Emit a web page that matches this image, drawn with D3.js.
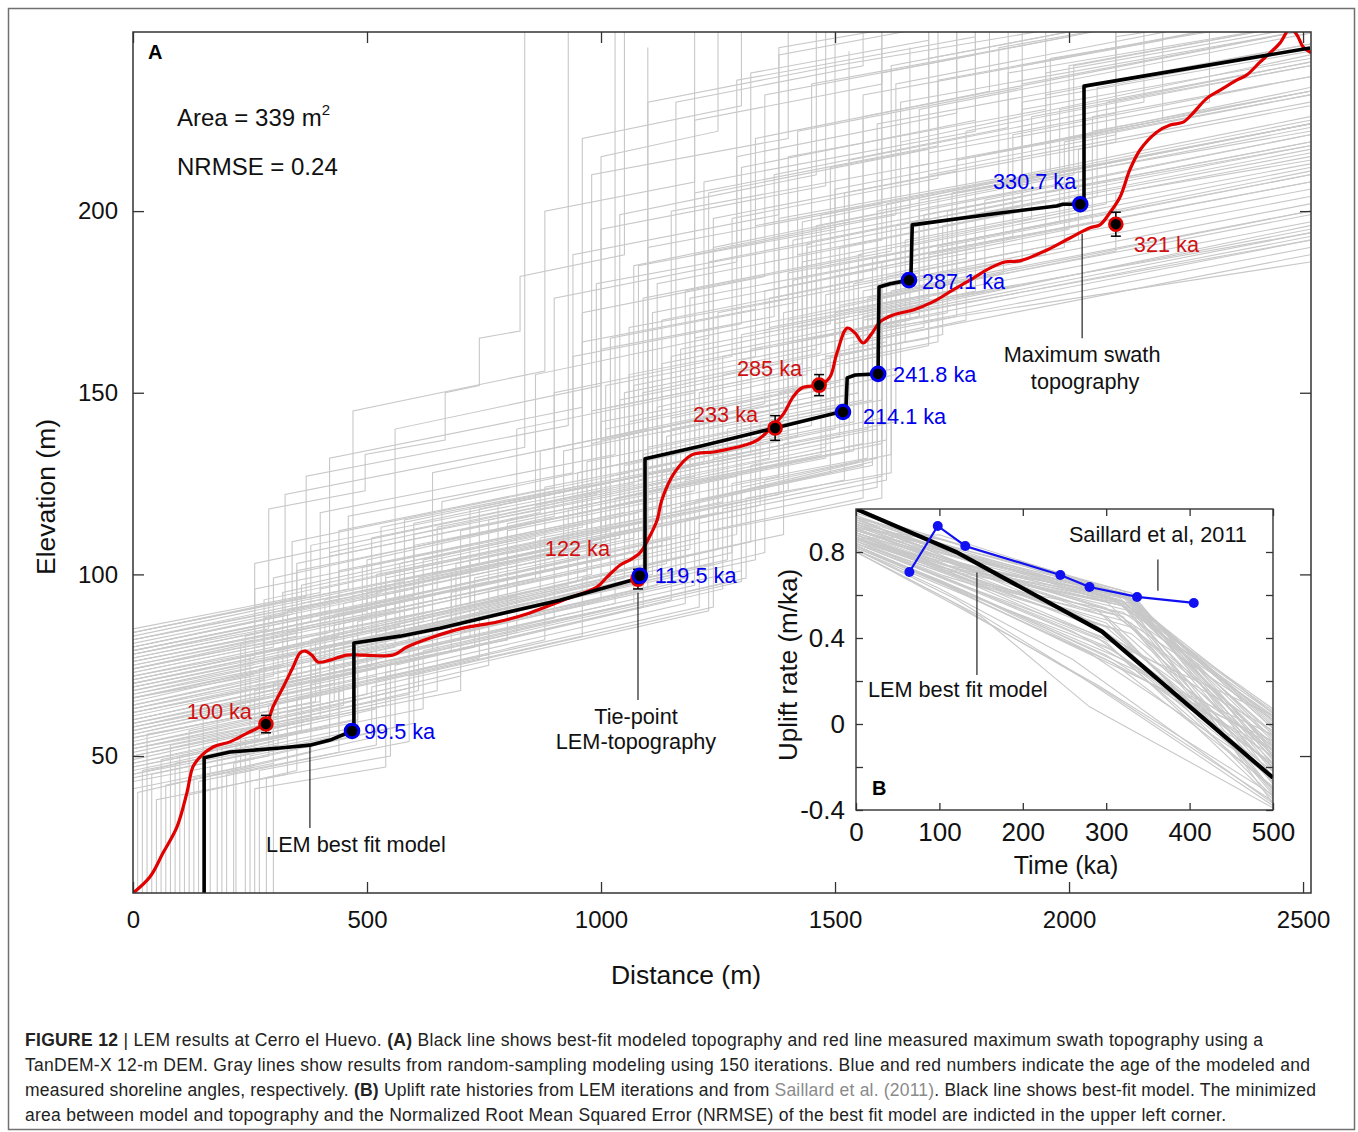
<!DOCTYPE html>
<html><head><meta charset="utf-8">
<script src="https://cdn.jsdelivr.net/npm/d3@7"></script>
<style>
body{margin:0;background:#fff}
svg{display:block}
text{font-family:"Liberation Sans",Arial,Helvetica,sans-serif}
</style>
</head><body>
<svg id="c" width="1358" height="1132"></svg>
<script>
// ---------------- DATA ----------------
const xTicks = [0, 500, 1000, 1500, 2000, 2500];
const yTicks = [50, 100, 150, 200];
const insetXTicks = [0, 100, 200, 300, 400, 500];
const insetYTicks = [-0.4, -0.2, 0, 0.2, 0.4, 0.6, 0.8];
const insetYTickLabels = ["-0.4", "", "0", "", "0.4", "", "0.8"];

// Gray LEM iterations: flat [distance, elevation] vertex lists (vertical jumps = repeated distance)
const grayProfiles = [
 [10,12, 10,40, 380,51, 380,70, 1150,93, 1150,118, 1560,130, 1560,168, 2515,192],
 [40,12, 40,45, 420,55, 420,74, 1200,97, 1200,120, 1590,132, 1590,172, 2515,195],
 [70,12, 70,42, 300,48, 300,60, 700,72, 700,84, 1300,101, 1300,128, 1600,136, 1600,176, 2100,189, 2100,205, 2515,214],
 [100,12, 100,50, 470,60, 470,78, 1120,97, 1120,125, 1480,135, 1480,160, 1700,165, 1700,190, 2515,210],
 [130,12, 130,44, 510,55, 510,69, 1230,90, 1230,112, 1560,121, 1560,170, 2515,194],
 [165,12, 165,47, 560,58, 560,75, 1260,96, 1260,118, 1600,127, 1600,180, 1950,188, 1950,205, 2515,218],
 [190,12, 190,52, 420,58, 420,80, 1050,99, 1050,130, 1450,141, 1450,165, 1680,171, 1680,200, 2515,221],
 [215,12, 215,48, 600,59, 600,78, 1280,98, 1280,122, 1580,130, 1580,174, 2515,197],
 [240,12, 240,55, 380,59, 380,82, 980,100, 980,136, 1350,147, 1350,178, 1800,190, 1800,215, 2515,233],
 [260,12, 260,41, 540,47, 540,73, 1180,92, 1180,115, 1610,126, 1610,168, 2515,186],
 [285,12, 285,44, 550,50, 550,76, 1300,98, 1300,124, 1550,131, 1550,172, 2515,194],
 [300,12, 300,58, 650,68, 650,88, 1140,103, 1140,138, 1500,148, 1500,182, 2000,195, 2000,220, 2515,233],
 [50,12, 50,38, 330,45, 330,62, 760,75, 760,88, 1350,106, 1350,126, 1620,133, 1620,178, 2515,200],
 [150,12, 150,60, 450,68, 450,90, 1000,106, 1000,142, 1420,152, 1420,188, 1900,200, 1900,228, 2515,242],
 [20,12, 20,46, 480,58, 480,80, 1080,98, 1080,126, 1520,137, 1520,166, 1640,169, 1640,195, 2515,216],
 [110,12, 110,39, 350,46, 350,66, 880,82, 880,96, 1320,109, 1320,130, 1610,137, 1610,182, 2515,204],
 [0,45, 300,54, 300,70, 900,88, 900,110, 1380,122, 1380,150, 1640,157, 1640,190, 2515,212],
 [0,48, 520,63, 520,84, 1100,101, 1100,135, 1500,145, 1500,172, 1750,178, 1750,205, 2515,224],
 [0,50, 250,57, 250,78, 950,98, 950,128, 1400,139, 1400,170, 1700,177, 1700,210, 2515,230],
 [0,52, 600,69, 600,88, 1150,104, 1150,140, 1550,150, 1550,185, 2050,197, 2050,222, 2515,233],
 [0,54, 350,64, 350,86, 1020,105, 1020,146, 1450,157, 1450,195, 1950,207, 1950,238, 2515,251],
 [0,56, 450,69, 450,92, 1090,110, 1090,150, 1380,158, 1380,198, 1850,209, 1850,245, 2515,260],
 [0,58, 280,66, 280,84, 880,101, 880,124, 1320,135, 1320,162, 1680,171, 1680,203, 2515,224],
 [0,60, 680,79, 680,95, 1210,110, 1210,150, 1590,160, 1590,200, 2515,223],
 [0,62, 400,73, 400,96, 940,111, 940,160, 1300,169, 1300,212, 1800,225, 1800,260],
 [0,64, 560,80, 560,98, 1060,112, 1060,155, 1500,166, 1500,206, 2100,221, 2100,250, 2515,260],
 [0,47, 380,57, 380,75, 1000,93, 1000,120, 1480,132, 1480,158, 1720,164, 1720,190, 2515,210],
 [0,53, 500,67, 500,82, 1240,103, 1240,132, 1570,140, 1570,176, 2515,200],
 [0,57, 330,66, 330,90, 980,108, 980,145, 1410,156, 1410,192, 1900,204, 1900,235, 2515,250],
 [0,61, 640,79, 640,100, 1130,114, 1130,170, 1560,181, 1560,226, 2515,250],
 [0,49, 420,61, 420,79, 1160,100, 1160,125, 1530,134, 1530,163, 1780,170, 1780,192, 2515,211],
 [0,55, 230,61, 230,81, 860,99, 860,119, 1360,132, 1360,168, 1760,178, 1760,214, 2515,234],
 [0,63, 720,83, 720,104, 1180,117, 1180,178, 1620,189, 1620,240, 2515,262],
 [0,51, 590,67, 590,85, 1270,104, 1270,140, 1580,148, 1580,187, 2050,199, 2050,226, 2515,237],
 [0,59, 470,72, 470,94, 1040,110, 1040,138, 1460,149, 1460,184, 1980,197, 1980,228, 2515,241],
 [0,44, 260,51, 260,68, 820,84, 820,105, 1340,119, 1340,142, 1600,148, 1600,184, 2515,206],
 [0,66, 540,81, 540,99, 1020,112, 1020,165, 1420,175, 1420,222, 1900,234, 1900,262],
 [0,68, 360,78, 360,97, 960,114, 960,172, 1350,182, 1350,232, 1800,243, 1800,270],
 [0,70, 620,87, 620,104, 1080,117, 1080,185, 1500,195, 1500,240, 2515,262],
 [0,72, 300,80, 300,99, 900,116, 900,150, 1280,160, 1280,198, 1720,209, 1720,236, 2515,255],
 [0,74, 500,88, 500,104, 1100,121, 1100,190, 1600,202, 1600,250],
 [0,76, 420,87, 420,106, 990,122, 990,180, 1450,191, 1450,235, 2000,248, 2000,265],
 [0,78, 700,97, 700,112, 1150,124, 1150,200, 1700,213, 1700,260],
 [0,80, 340,89, 340,109, 1060,128, 1060,168, 1400,176, 1400,215, 1950,228, 1950,255],
 [0,82, 580,98, 580,115, 1220,131, 1220,208, 1800,222, 1800,260],
 [0,84, 460,96, 460,116, 940,128, 940,188, 1380,199, 1380,245, 2515,270],
 [0,67, 780,89, 780,104, 1260,117, 1260,160, 1660,170, 1660,212, 2200,225, 2200,250],
 [0,71, 440,83, 440,101, 1130,119, 1130,158, 1520,168, 1520,205, 2100,219, 2100,248, 2515,256],
 [0,75, 260,82, 260,103, 1000,123, 1000,195, 1480,207, 1480,255],
 [0,79, 650,96, 650,113, 1190,127, 1190,176, 1640,187, 1640,230, 2515,250],
 [0,69, 520,83, 520,100, 1300,120, 1300,166, 1700,176, 1700,216, 2300,230, 2300,255],
 [0,73, 870,96, 870,110, 1400,123, 1400,183, 1900,195, 1900,240, 2515,255],
 [0,77, 380,87, 380,108, 1090,126, 1090,176, 1560,188, 1560,232, 2200,247, 2200,262],
 [0,83, 740,103, 740,118, 1240,131, 1240,198, 1760,211, 1760,255],
 [0,80, 325,89, 325,122, 837,135, 837,260],
 [0,84, 370,94, 370,127, 930,141, 930,260],
 [0,78, 290,85, 290,118, 496,123, 496,133, 667,137, 667,150, 740,152, 740,165, 827,167, 827,182, 1050,188, 1050,260],
 [0,76, 560,90, 560,140, 1000,152, 1000,215, 1250,222, 1250,260],
 [0,70, 640,86, 640,128, 1100,140, 1100,230, 1500,240, 1500,260],
 [0,82, 470,94, 470,145, 880,156, 880,200, 1200,208, 1200,260],
 [0,74, 720,92, 720,118, 1320,133, 1320,238, 1700,247, 1700,260],
 [0,66, 600,80, 600,108, 1200,123, 1200,225, 1600,235, 1600,260],
 [0,79, 420,90, 420,132, 960,146, 960,220, 1300,229, 1300,260],
 [0,62, 800,82, 800,112, 1380,127, 1380,243, 1800,253],
 [0,65, 410,77, 410,93, 1010,109, 1010,140, 1430,151, 1430,186, 1920,198, 1920,226, 2515,240],
 [0,58, 610,75, 610,92, 1190,107, 1190,133, 1540,142, 1540,180, 2020,192, 2020,217, 2515,229],
 [0,46, 330,55, 330,72, 1070,92, 1070,117, 1490,128, 1490,160, 1730,166, 1730,196, 2515,215],
 [0,71, 490,84, 490,102, 1050,117, 1050,150, 1470,161, 1470,199, 2000,212, 2000,240, 2515,252],
 [80,12, 80,53, 400,61, 400,80, 1130,100, 1130,128, 1510,138, 1510,174, 1860,183, 1860,208, 2515,224],
 [0,63, 280,71, 280,88, 920,105, 920,134, 1360,145, 1360,176, 1780,187, 1780,222, 2515,240],
 [0,69, 690,87, 690,103, 1250,117, 1250,172, 1680,183, 1680,228, 2515,249],
 [200,12, 200,45, 520,53, 520,71, 1210,91, 1210,114, 1590,124, 1590,170, 2515,193],
 [0,74, 350,83, 350,101, 1120,121, 1120,180, 1600,192, 1600,238, 2515,261],
 [0,52, 450,64, 450,83, 1020,99, 1020,127, 1420,138, 1420,168, 1800,178, 1800,206, 2515,224],
 [0,81, 530,95, 530,113, 980,125, 980,210, 1400,220, 1400,260],
 [0,57, 760,78, 760,96, 1290,111, 1290,146, 1630,155, 1630,196, 2515,218],
 [0,43, 290,50, 290,64, 740,77, 740,90, 1280,106, 1280,125, 1570,132, 1570,170, 2515,192],
 [0,67, 320,75, 320,95, 860,110, 860,155, 1230,165, 1230,205, 1700,217, 1700,248],
 [0,78, 600,94, 600,111, 1160,125, 1160,230, 1560,240, 1560,260],
 [0,60, 520,74, 520,91, 1060,106, 1060,142, 1440,152, 1440,190, 1950,203, 1950,232, 2515,246],
 [0,85, 400,95, 400,117, 1030,133, 1030,260],
 [0,70, 260,77, 260,96, 1150,119, 1150,160, 1490,169, 1490,212, 2100,227, 2100,255],
 [120,12, 120,57, 430,65, 430,86, 970,101, 970,131, 1390,142, 1390,172, 1760,181, 1760,214, 2515,232],
 [0,50, 700,68, 700,87, 1330,104, 1330,136, 1600,143, 1600,186, 2515,208],
 [0,72, 330,80, 330,84, 610,91, 610,99, 1010,110, 1010,152, 1330,160, 1330,196, 1870,209, 1870,238, 2515,252],
 [60,12, 60,49, 360,57, 360,71, 640,79, 640,86, 1110,100, 1110,123, 1540,134, 1540,164, 1690,168, 1690,199, 2515,219],
 [0,64, 300,72, 300,77, 540,83, 540,100, 1120,115, 1120,146, 1440,155, 1440,191, 1900,203, 1900,230, 2515,244],
 [0,41, 230,47, 230,57, 610,68, 610,81, 1170,98, 1170,119, 1580,131, 1580,167, 2515,190],
 [0,77, 500,90, 500,95, 780,102, 780,119, 1200,130, 1200,205, 1720,218, 1720,260],
 [180,12, 180,63, 520,72, 520,95, 1070,110, 1070,152, 1460,162, 1460,196, 2010,210, 2010,240, 2515,252],
 [0,55, 390,65, 390,82, 820,94, 820,108, 1260,120, 1260,155, 1610,164, 1610,202, 2515,225],
 [0,48, 270,55, 270,74, 700,86, 700,97, 1230,112, 1230,140, 1560,148, 1560,178, 1900,186, 1900,210, 2515,226],
 [0,82, 440,93, 440,112, 900,124, 900,176, 1290,186, 1290,236, 1800,248, 1800,262],
 [250,12, 250,50, 470,56, 470,76, 1030,92, 1030,121, 1470,133, 1470,159, 1650,164, 1650,192, 2515,213],
 [0,60, 730,80, 730,99, 1170,111, 1170,162, 1530,171, 1530,214, 2160,230, 2160,258],
 [0,53, 310,61, 310,79, 930,97, 930,118, 1300,128, 1300,159, 1760,171, 1760,198, 2515,217],
 [0,69, 580,84, 580,107, 1110,121, 1110,172, 1590,184, 1590,224, 2515,246],
 [140,12, 140,43, 440,51, 440,68, 960,83, 960,99, 1390,111, 1390,136, 1630,142, 1630,180, 2515,202],
 [0,75, 350,84, 350,103, 870,117, 870,134, 1240,144, 1240,190, 1660,201, 1660,245],
 [0,62, 510,75, 510,92, 1150,110, 1150,143, 1510,153, 1510,190, 2060,204, 2060,234, 2515,245],
 [0,45, 440,56, 440,72, 1090,91, 1090,114, 1520,126, 1520,158, 1700,163, 1700,188, 2515,208],
 [0,80, 600,96, 600,114, 1040,126, 1040,199, 1460,210, 1460,258],
 [0,58, 240,64, 240,83, 760,98, 760,115, 1200,127, 1200,165, 1640,177, 1640,219, 2515,243],
 [30,12, 30,56, 400,65, 400,88, 1000,104, 1000,137, 1410,148, 1410,181, 1880,193, 1880,221, 2515,237],
 [0,66, 680,84, 680,101, 1230,116, 1230,186, 1700,198, 1700,242, 2515,262],
 [0,50, 540,64, 540,80, 1180,99, 1180,126, 1560,136, 1560,171, 1820,178, 1820,203, 2515,221],
 [0,73, 420,84, 420,105, 1000,120, 1000,162, 1370,171, 1370,210, 1870,223, 1870,250],
 [90,12, 90,48, 310,53, 310,69, 800,82, 800,94, 1250,107, 1250,131, 1590,140, 1590,176, 2515,199],
 [0,84, 660,101, 660,120, 1100,132, 1100,245],
 [0,56, 480,69, 480,87, 1090,105, 1090,133, 1480,144, 1480,177, 1990,190, 1990,219, 2515,232],
 [0,71, 570,86, 570,103, 960,113, 960,164, 1330,173, 1330,220, 1830,233, 1830,260],
 [220,12, 220,53, 480,60, 480,79, 1100,96, 1100,129, 1500,140, 1500,169, 1720,175, 1720,204, 2515,222],
 [0,63, 360,72, 360,92, 1040,110, 1040,148, 1430,158, 1430,197, 1960,211, 1960,242, 2515,254],
 [0,47, 620,63, 620,79, 1310,99, 1310,121, 1620,128, 1620,172, 2515,196],
 [0,79, 510,92, 510,110, 1070,125, 1070,185, 1530,197, 1530,244],
 [270,12, 270,46, 590,54, 590,72, 1240,91, 1240,112, 1600,121, 1600,165, 2515,188],
 [0,59, 430,70, 430,89, 1130,108, 1130,139, 1550,150, 1550,188, 2080,202, 2080,230, 2515,241],
 [0,68, 280,75, 280,93, 820,108, 820,140, 1200,150, 1200,188, 1630,199, 1630,235, 2515,257],
 [0,52, 380,61, 380,78, 970,95, 970,124, 1400,136, 1400,164, 1740,172, 1740,200, 2515,219],
 [0,76, 800,97, 800,114, 1290,127, 1290,215, 1760,227, 1760,262]
];

// Best-fit LEM profile (distance m, elevation m)
const bestDist = [152,152,207,314,378,421,468,472,472,571,656,784,912,998,1083,1094,1094,1212,1372,1511,1523,1526,1543,1592,1594,1618,1658,1662,1665,1853,1974,1987,2024,2032,2032,2515];
const bestElev = [12.3,49.5,51.1,52.2,53.0,54.4,56.9,56.9,81.1,83.0,85.2,89.1,92.9,96.0,99.0,99.0,131.8,135.3,140.3,144.7,144.7,154.1,154.9,155.2,179.1,180.0,181.0,181.0,196.2,199.5,201.4,201.9,201.9,201.9,234.4,244.9];

// Measured maximum swath topography
const swathDist = [0,36,64,94,115,128,143,171,207,244,271,286,299,321,342,357,368,382,395,421,457,491,556,585,635,705,778,848,919,991,1013,1041,1062,1083,1100,1120,1130,1158,1194,1241,1308,1335,1363,1391,1410,1429,1457,1468,1489,1504,1526,1543,1560,1579,1596,1624,1667,1709,1752,1782,1831,1863,1895,1953,2002,2045,2066,2088,2109,2130,2152,2188,2216,2244,2265,2295,2323,2359,2380,2408,2429,2451,2472,2487,2500,2517];
const swathElev = [12.3,16.7,23.3,30.5,39.8,47.0,49.7,52.5,53.9,56.3,58.0,59.1,63.5,69.0,74.5,78.4,78.9,77.8,75.9,76.4,77.8,77.8,77.8,80.0,82.5,85.2,86.9,89.4,92.9,96.5,99.3,102.6,104.0,105.9,109.5,115.0,120.5,128.2,132.9,133.7,135.6,137.0,140.3,144.4,148.8,151.3,151.9,152.1,154.3,160.9,167.8,166.4,163.7,166.4,169.5,171.4,172.8,175.0,178.3,180.5,184.3,186.0,186.3,189.3,192.6,195.4,196.2,199.7,203.9,211.4,216.9,221.8,223.7,224.5,227.0,231.1,233.3,236.1,237.5,241.0,243.5,246.3,250.2,248.5,245.2,243.6];

// Modeled shoreline angles (blue)
const blueLabels = ["99.5 ka", "119.5 ka", "214.1 ka", "241.8 ka", "287.1 ka", "330.7 ka"];
const blueDist = [468, 1083, 1517, 1592, 1658, 2024];
const blueElev = [56.9, 99.6, 144.7, 155.2, 181.0, 201.9];

// Measured shoreline angles (red)
const redLabels = ["100 ka", "122 ka", "233 ka", "285 ka", "321 ka"];
const redDist = [284, 1079, 1372, 1466, 2100];
const redElev = [58.8, 98.7, 140.3, 152.1, 196.4];
const redErr = [2.4, 2.7, 3.4, 2.9, 3.3];

// Inset B: uplift-rate histories (time ka, rate m/ka), flat pairs
const insetGray = [
 [0,0.97,110,0.80,320,0.60,500,0.05],[0,0.95,120,0.78,325,0.59,500,-0.02],[0,0.93,100,0.80,315,0.58,500,0.07],
 [0,0.92,130,0.74,320,0.57,500,-0.10],[0,0.90,115,0.76,330,0.55,500,-0.05],[0,0.96,140,0.72,300,0.50,500,-0.20],
 [0,0.88,105,0.74,325,0.60,500,-0.15],[0,0.94,125,0.75,310,0.52,500,0.02],[0,0.86,100,0.72,320,0.56,500,-0.28],
 [0,0.91,135,0.70,280,0.48,500,-0.12],[0,0.89,150,0.66,330,0.47,500,-0.32],[0,0.85,120,0.68,290,0.40,500,-0.22],
 [0,0.87,110,0.71,260,0.46,500,0.04],[0,0.84,130,0.64,300,0.38,500,-0.35],[0,0.82,140,0.60,320,0.30,500,-0.30],
 [0,0.83,100,0.66,250,0.38,500,-0.08],[0,0.81,120,0.58,270,0.22,500,-0.38],[0,0.80,150,0.50,280,0.08,500,-0.39],
 [0,0.80,110,0.58,300,0.15,500,-0.36],[0,0.92,100,0.82,330,0.60,500,-0.25],[0,0.90,125,0.77,320,0.61,500,0.00],
 [0,0.86,115,0.73,335,0.52,500,0.06],[0,0.94,130,0.79,300,0.57,500,-0.18],[0,0.88,140,0.68,310,0.44,500,-0.26],
 [0,0.85,105,0.69,330,0.42,500,-0.14],[0,0.83,130,0.62,280,0.35,500,-0.05],[0,0.91,120,0.74,290,0.53,500,-0.30],
 [0,0.96,110,0.85,325,0.58,500,-0.08],[0,0.87,150,0.64,320,0.50,500,-0.33],[0,0.82,100,0.67,300,0.32,500,-0.18],
 [0,0.89,130,0.73,340,0.49,500,-0.37],[0,0.93,140,0.75,310,0.58,500,0.03],[0,0.84,120,0.66,260,0.43,500,-0.10],
 [0,0.90,100,0.78,300,0.54,500,-0.06],[0,0.86,135,0.67,330,0.45,500,-0.24],[0,0.98,120,0.84,320,0.60,500,-0.12],
 [0,0.95,100,0.84,320,0.61,500,0.01],[0,0.84,110,0.70,300,0.45,500,-0.20],[0,0.88,120,0.72,330,0.58,500,-0.02],
 [0,0.81,130,0.60,310,0.28,500,-0.29],[0,0.93,150,0.70,320,0.55,500,-0.16],[0,0.90,110,0.80,300,0.60,500,0.05],
 [0,0.86,100,0.76,325,0.59,500,-0.21],[0,0.97,130,0.80,315,0.59,500,-0.04],[0,0.83,150,0.58,300,0.30,500,-0.12],
 [0,0.89,115,0.75,270,0.50,500,-0.19],[0,0.92,135,0.73,330,0.54,500,-0.11],[0,0.85,125,0.65,320,0.37,500,-0.34],
 [0,0.86,100,0.88,325,0.60,500,-0.07],[0,0.91,100,0.86,320,0.62,500,-0.01],
 [0,0.94,110,0.81,320,0.59,500,-0.14],[0,0.87,125,0.70,300,0.47,500,-0.27],[0,0.82,110,0.64,280,0.33,500,-0.24],
 [0,0.91,140,0.71,330,0.56,500,0.02],[0,0.85,100,0.73,320,0.55,500,-0.31],[0,0.89,130,0.71,310,0.51,500,-0.09],
 [0,0.96,120,0.82,330,0.61,500,-0.17],[0,0.80,120,0.55,290,0.18,500,-0.33],[0,0.84,140,0.62,300,0.36,500,-0.15],
 [0,0.93,105,0.81,320,0.57,500,-0.22],[0,0.88,150,0.65,320,0.52,500,0.04],[0,0.81,100,0.63,260,0.30,500,-0.37],
 [0,0.90,130,0.74,335,0.58,500,-0.13],[0,0.86,110,0.72,280,0.46,500,-0.03],[0,0.83,135,0.60,310,0.34,500,-0.26],
 [0,0.95,140,0.76,325,0.60,500,-0.19]
];
const insetBestT = [0, 120, 295, 500];
const insetBestR = [1.0, 0.80, 0.43, -0.25];
const saillardT = [64, 98, 131, 245, 280, 337, 405];
const saillardR = [0.707, 0.921, 0.828, 0.693, 0.637, 0.591, 0.563];

const captionLines = [
 [["FIGURE 12", "b"], [" | LEM results at Cerro el Huevo. ", ""], ["(A)", "b"], [" Black line shows best-fit modeled topography and red line measured maximum swath topography using a", ""]],
 [["TanDEM-X 12-m DEM. Gray lines show results from random-sampling modeling using 150 iterations. Blue and red numbers indicate the age of the modeled and", ""]],
 [["measured shoreline angles, respectively. ", ""], ["(B)", "b"], [" Uplift rate histories from LEM iterations and from ", ""], ["Saillard et al. (2011)", "g"], [". Black line shows best-fit model. The minimized", ""]],
 [["area between model and topography and the Normalized Root Mean Squared Error (NRMSE) of the best fit model are indicted in the upper left corner.", ""]]
];

// ---------------- LAYOUT / STYLE ----------------
const svg = d3.select("#c");
const RED = "#e00000", RED_T = "#d01010", BLUE = "#0000ee", GRAY = "#c8c8c8";
const ANN = 21.7;
const pairs = a => { const p = []; for (let i = 0; i < a.length; i += 2) p.push([a[i], a[i + 1]]); return p; };

svg.append("rect").attr("x", 8.5).attr("y", 8.5).attr("width", 1346).attr("height", 1121)
  .attr("fill", "none").attr("stroke", "#707070").attr("stroke-width", 1.5);

const L = 133, R = 1311, T = 32, B = 893;
const x = d3.scaleLinear().domain([0, 2517]).range([L, R]);
const y = d3.scaleLinear().domain([12.3, 249.3]).range([B, T]);

const defs = svg.append("defs");
defs.append("clipPath").attr("id", "clipA").append("rect").attr("x", L).attr("y", T).attr("width", R - L).attr("height", B - T);

const plotA = svg.append("g").attr("clip-path", "url(#clipA)");
const lineA = d3.line().x(d => x(d[0])).y(d => y(d[1]));

plotA.selectAll("path.g").data(grayProfiles).join("path").attr("class", "g")
  .attr("d", d => lineA(pairs(d))).attr("fill", "none").attr("stroke", GRAY).attr("stroke-width", 1.1);

// measured swath (red)
plotA.append("path").datum(d3.zip(swathDist, swathElev))
  .attr("d", d3.line().x(d => x(d[0])).y(d => y(d[1])).curve(d3.curveCatmullRom.alpha(0.5)))
  .attr("fill", "none").attr("stroke", RED).attr("stroke-width", 3.2).attr("stroke-linejoin", "round");

// best fit (black)
plotA.append("path").datum(d3.zip(bestDist, bestElev)).attr("d", lineA)
  .attr("fill", "none").attr("stroke", "#000").attr("stroke-width", 3.6).attr("stroke-linejoin", "round");

// annotation pointer lines
const ann = svg.append("g").attr("stroke", "#222").attr("stroke-width", 1.2);
ann.append("line").attr("x1", x(378)).attr("x2", x(378)).attr("y1", y(52.6)).attr("y2", y(30.2));
ann.append("line").attr("x1", x(1079)).attr("x2", x(1079)).attr("y1", y(95.0)).attr("y2", y(65.4));
ann.append("line").attr("x1", x(2028)).attr("x2", x(2028)).attr("y1", y(193.8)).attr("y2", y(165.0));

// red measured points with error bars
const redG = svg.append("g");
redDist.forEach((d, i) => {
  const cx = x(d), y1 = y(redElev[i] + redErr[i]), y2 = y(redElev[i] - redErr[i]);
  redG.append("line").attr("x1", cx).attr("x2", cx).attr("y1", y1).attr("y2", y2).attr("stroke", "#000").attr("stroke-width", 1.5);
  redG.append("line").attr("x1", cx - 5).attr("x2", cx + 5).attr("y1", y1).attr("y2", y1).attr("stroke", "#000").attr("stroke-width", 1.5);
  redG.append("line").attr("x1", cx - 5).attr("x2", cx + 5).attr("y1", y2).attr("y2", y2).attr("stroke", "#000").attr("stroke-width", 1.5);
});
// blue modeled points
svg.append("g").selectAll("circle").data(blueDist).join("circle")
  .attr("cx", d => x(d)).attr("cy", (d, i) => y(blueElev[i])).attr("r", 6.8)
  .attr("fill", "#000").attr("stroke", BLUE).attr("stroke-width", 3);
redG.selectAll("circle").data(redDist).join("circle")
  .attr("cx", d => x(d)).attr("cy", (d, i) => y(redElev[i])).attr("r", 6.5)
  .attr("fill", "#000").attr("stroke", RED).attr("stroke-width", 2.6);

// labels
const blueOff = [[12, 0, "start"], [15, 0, "start"], [20, 4, "start"], [15, 1, "start"], [13, 1, "start"], [-4, -23, "end"]];
const redOff = [[-14, -13, "end"], [-28, -31, "end"], [-17, -14, "end"], [-17, -17, "end"], [18, 20, "start"]];
const lab = svg.append("g").attr("font-size", ANN);
blueLabels.forEach((t, i) => lab.append("text").attr("x", x(blueDist[i]) + blueOff[i][0]).attr("y", y(blueElev[i]) + blueOff[i][1])
  .attr("dy", "0.35em").attr("text-anchor", blueOff[i][2]).attr("fill", BLUE).text(t));
redLabels.forEach((t, i) => lab.append("text").attr("x", x(redDist[i]) + redOff[i][0]).attr("y", y(redElev[i]) + redOff[i][1])
  .attr("dy", "0.35em").attr("text-anchor", redOff[i][2]).attr("fill", RED_T).text(t));

const note = (tx, ty, s) => lab.append("text").attr("x", tx).attr("y", ty).attr("dy", "0.35em").attr("text-anchor", "middle").attr("fill", "#111").text(s);
note(x(378) + 46, y(25.8), "LEM best fit model");
note(x(1079) - 2, y(61.0), "Tie-point");
note(x(1079) - 2, y(53.9), "LEM-topography");
note(x(2028), y(160.6), "Maximum swath");
note(x(2028) + 3, y(153.1), "topography");

// stats text
const st = svg.append("g").attr("font-size", 24).attr("fill", "#111");
const areaT = st.append("text").attr("x", 177).attr("y", 126);
areaT.append("tspan").text("Area = 339 m");
areaT.append("tspan").attr("font-size", 15).attr("dy", -11).text("2");
st.append("text").attr("x", 177).attr("y", 175).text("NRMSE = 0.24");
svg.append("text").attr("x", 148).attr("y", 59).attr("font-size", 20).attr("font-weight", "bold").text("A");

// axes (inward ticks)
function styleAxis(fs) {
  return g => {
    g.attr("font-size", fs).attr("font-family", null);
    g.select(".domain").remove();
    g.selectAll(".tick line").attr("stroke", "#333").attr("stroke-width", 1.3);
    g.selectAll(".tick text").attr("fill", "#111");
  };
}
svg.append("g").attr("transform", `translate(0,${B})`)
  .call(d3.axisBottom(x).tickValues(xTicks).tickSize(-11).tickPadding(18).tickFormat(d3.format("d"))).call(styleAxis(24));
svg.append("g").attr("transform", `translate(0,${T})`)
  .call(d3.axisTop(x).tickValues(xTicks).tickSize(-11).tickFormat("")).call(styleAxis(24));
svg.append("g").attr("transform", `translate(${L},0)`)
  .call(d3.axisLeft(y).tickValues(yTicks).tickSize(-11).tickPadding(15).tickFormat(d3.format("d"))).call(styleAxis(24));
svg.append("g").attr("transform", `translate(${R},0)`)
  .call(d3.axisRight(y).tickValues(yTicks).tickSize(-11).tickFormat("")).call(styleAxis(24));
svg.append("rect").attr("x", L).attr("y", T).attr("width", R - L).attr("height", B - T)
  .attr("fill", "none").attr("stroke", "#333").attr("stroke-width", 1.5);

svg.append("text").attr("x", 686).attr("y", 984).attr("text-anchor", "middle").attr("font-size", 26.5).attr("fill", "#111").text("Distance (m)");
svg.append("text").attr("transform", "translate(55,497) rotate(-90)").attr("text-anchor", "middle").attr("font-size", 26.5).attr("fill", "#111").text("Elevation (m)");

// ---------------- INSET B ----------------
const iL = 856, iR = 1273, iT = 509, iB = 810;
const xi = d3.scaleLinear().domain([0, 500]).range([iL, iR]);
const yi = d3.scaleLinear().domain([-0.4, 1.0]).range([iB, iT]);
svg.append("rect").attr("x", iL).attr("y", iT).attr("width", iR - iL).attr("height", iB - iT).attr("fill", "#fff");
defs.append("clipPath").attr("id", "clipB").append("rect").attr("x", iL).attr("y", iT).attr("width", iR - iL).attr("height", iB - iT);
const plotB = svg.append("g").attr("clip-path", "url(#clipB)");
const lineB = d3.line().x(d => xi(d[0])).y(d => yi(d[1]));
plotB.selectAll("path.gi").data(insetGray).join("path").attr("class", "gi")
  .attr("d", d => lineB(pairs(d))).attr("fill", "none").attr("stroke", GRAY).attr("stroke-width", 1.1);
plotB.append("path").datum(d3.zip(insetBestT, insetBestR)).attr("d", lineB)
  .attr("fill", "none").attr("stroke", "#000").attr("stroke-width", 4.2);
svg.append("path").datum(d3.zip(saillardT, saillardR)).attr("d", lineB)
  .attr("fill", "none").attr("stroke", "#1010f0").attr("stroke-width", 2.2);
svg.append("g").selectAll("circle").data(saillardT).join("circle")
  .attr("cx", d => xi(d)).attr("cy", (d, i) => yi(saillardR[i])).attr("r", 5).attr("fill", "#1010f0");

const annB = svg.append("g").attr("stroke", "#222").attr("stroke-width", 1.2);
annB.append("line").attr("x1", xi(362)).attr("x2", xi(362)).attr("y1", yi(0.765)).attr("y2", yi(0.62));
annB.append("line").attr("x1", xi(145)).attr("x2", xi(145)).attr("y1", yi(0.705)).attr("y2", yi(0.228));
svg.append("text").attr("x", xi(362)).attr("y", yi(0.88)).attr("dy", "0.35em").attr("text-anchor", "middle").attr("font-size", ANN).attr("fill", "#111").text("Saillard et al, 2011");
svg.append("text").attr("x", xi(122)).attr("y", yi(0.16)).attr("dy", "0.35em").attr("text-anchor", "middle").attr("font-size", ANN).attr("fill", "#111").text("LEM best fit model");
svg.append("text").attr("x", 872).attr("y", 795).attr("font-size", 20).attr("font-weight", "bold").text("B");

svg.append("g").attr("transform", `translate(0,${iB})`)
  .call(d3.axisBottom(xi).tickValues(insetXTicks).tickSize(-7).tickPadding(13).tickFormat(d3.format("d"))).call(styleAxis(26));
svg.append("g").attr("transform", `translate(0,${iT})`)
  .call(d3.axisTop(xi).tickValues(insetXTicks).tickSize(-7).tickFormat("")).call(styleAxis(26));
svg.append("g").attr("transform", `translate(${iL},0)`)
  .call(d3.axisLeft(yi).tickValues(insetYTicks).tickSize(-7).tickPadding(11).tickFormat((d, i) => insetYTickLabels[i])).call(styleAxis(26));
svg.append("g").attr("transform", `translate(${iR},0)`)
  .call(d3.axisRight(yi).tickValues(insetYTicks).tickSize(-7).tickFormat("")).call(styleAxis(26));
svg.append("rect").attr("x", iL).attr("y", iT).attr("width", iR - iL).attr("height", iB - iT)
  .attr("fill", "none").attr("stroke", "#333").attr("stroke-width", 1.4);
svg.append("text").attr("x", 1066).attr("y", 874).attr("text-anchor", "middle").attr("font-size", 25).attr("fill", "#111").text("Time (ka)");
svg.append("text").attr("transform", "translate(797,665) rotate(-90)").attr("text-anchor", "middle").attr("font-size", 26).attr("fill", "#111").text("Uplift rate (m/ka)");

// ---------------- CAPTION ----------------
const capEnds = [1263, 1310, 1316, 1226];
captionLines.forEach((parts, li) => {
  const t = svg.append("text").attr("x", 25).attr("y", 1046 + li * 25).attr("font-size", 17.5).attr("fill", "#222");
  let n = 0;
  parts.forEach(([s, k]) => {
    n += s.length;
    const sp = t.append("tspan").text(s);
    if (k === "b") sp.attr("font-weight", "bold");
    if (k === "g") sp.attr("fill", "#8a8a8a");
  });
  const w = t.node().getComputedTextLength();
  t.attr("letter-spacing", ((capEnds[li] - 25) - w) / (n - 1));
});
</script>
</body></html>
